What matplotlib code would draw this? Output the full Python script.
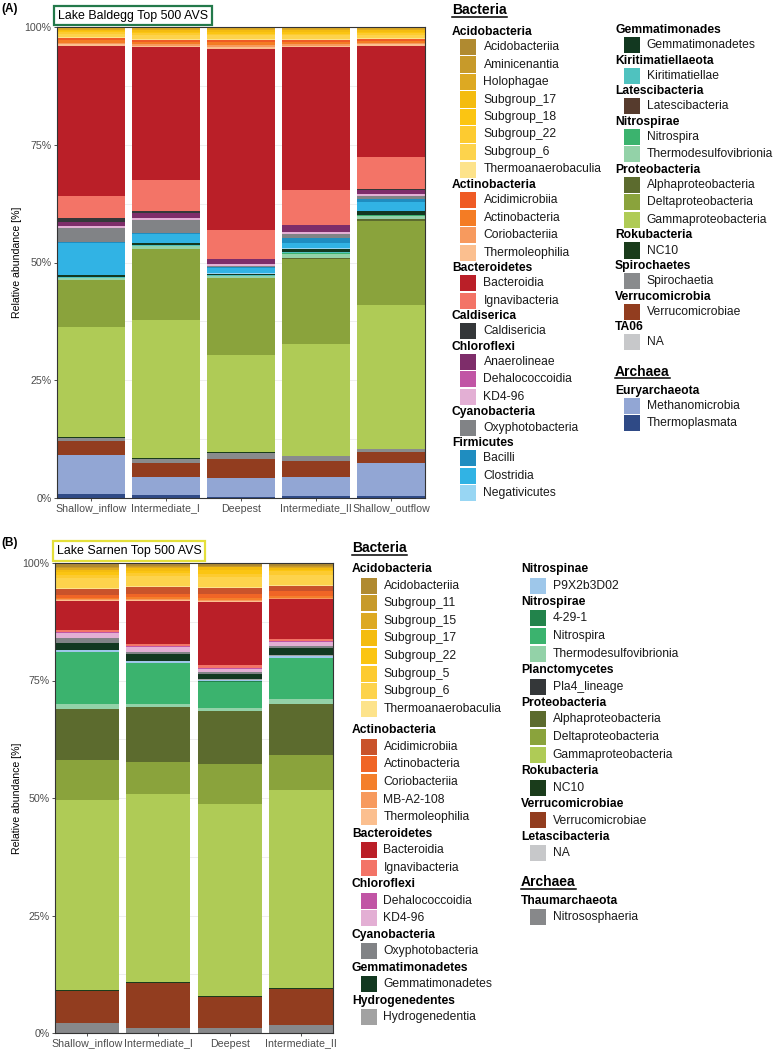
import matplotlib
matplotlib.use("Agg")
import matplotlib.pyplot as plt
import numpy as np
from matplotlib.patches import Rectangle
from matplotlib.lines import Line2D

plt.rcParams['font.family'] = ['Liberation Sans', 'DejaVu Sans']

W, H = 774, 1050

# ---------------- (A) Lake Baldegg ----------------
a_samples = ['Shallow_inflow', 'Intermediate_I', 'Deepest', 'Intermediate_II', 'Shallow_outflow']
a_classes = ['Acidobacteriia', 'Aminicenantia', 'Holophagae', 'Subgroup_17', 'Subgroup_18',
             'Subgroup_22', 'Subgroup_6', 'Thermoanaerobaculia',
             'Acidimicrobiia', 'Actinobacteria', 'Coriobacteriia', 'Thermoleophilia',
             'Bacteroidia', 'Ignavibacteria', 'Caldisericia',
             'Anaerolineae', 'Dehalococcoidia', 'KD4-96', 'Oxyphotobacteria',
             'Bacilli', 'Clostridia', 'Negativicutes', 'Gemmatimonadetes', 'Kiritimatiellae',
             'Latescibacteria', 'Nitrospira', 'Thermodesulfovibrionia',
             'Alphaproteobacteria', 'Deltaproteobacteria', 'Gammaproteobacteria',
             'NC10', 'Spirochaetia', 'Verrucomicrobiae', 'NA',
             'Methanomicrobia', 'Thermoplasmata']
a_phyla = (['Acidobacteria'] * 8 + ['Actinobacteria'] * 4 + ['Bacteroidetes'] * 2 +
           ['Caldiserica'] + ['Chloroflexi'] * 3 + ['Cyanobacteria'] + ['Firmicutes'] * 3 +
           ['Gemmatimonades', 'Kiritimatiellaeota', 'Latescibacteria'] + ['Nitrospirae'] * 2 +
           ['Proteobacteria'] * 3 + ['Rokubacteria', 'Spirochaetes', 'Verrucomicrobia', 'TA06'] +
           ['Euryarchaeota'] * 2)
a_colors = ['#B08A30', '#C79A2A', '#DDA922', '#F4BC0F', '#FBC512', '#FDCB30', '#FDD34C', '#FDE38B',
            '#EF5B25', '#F47C24', '#F79A5E', '#FBBF8F',
            '#BA1F28', '#F37467', '#343739',
            '#7E2D6A', '#C155A5', '#E3AFD4', '#818386',
            '#1F8DC0', '#31B3E4', '#98D6F3', '#123820', '#4FC2BF',
            '#563B2D', '#3BB36E', '#93D2A8',
            '#5C6B2E', '#8AA33C', '#AFCB56',
            '#1A3C1B', '#898B8D', '#923D1F', '#C7C8CA',
            '#92A6D4', '#2F4A86']
a_shallow_inflow = [0.1, 0.1, 0.4, 0.3, 0.2, 0.3, 0.7, 0.2, 0.55, 0.5, 0.3, 0.4, 32.0, 4.5, 0.9,
                    0.8, 0.1, 0.4, 3.0, 0.1, 7.0, 0.0, 0.4, 0.05, 0.05, 0.1, 0.3, 0.1, 9.9, 23.4,
                    0.2, 0.7, 3.0, 0.05, 8.25, 0.85]
a_intermediate_1 = [0.1, 0.1, 0.4, 0.4, 0.3, 0.4, 0.8, 0.2, 0.5, 0.5, 0.3, 0.3, 28.1, 6.5, 0.4,
                    1.1, 0.1, 0.4, 2.8, 0.1, 1.9, 0.05, 0.5, 0.05, 0.05, 0.1, 0.5, 0.1, 15.0, 29.2,
                    0.2, 0.8, 3.0, 0.05, 3.8, 0.6]
a_deepest = [0.1, 0.1, 0.5, 0.4, 0.3, 0.4, 0.7, 0.2, 0.6, 0.6, 0.3, 0.4, 38.7, 6.2, 0.1,
             1.0, 0.1, 0.4, 0.1, 0.2, 1.2, 0.1, 0.35, 0.05, 0.05, 0.05, 0.3, 0.1, 16.5, 20.7,
             0.2, 1.2, 4.1, 0.05, 3.9, 0.3]
a_intermediate_2 = [0.1, 0.1, 0.5, 0.4, 0.3, 0.4, 0.7, 0.2, 0.5, 0.5, 0.3, 0.3, 30.5, 7.3, 0.1,
                    1.4, 0.1, 0.4, 0.8, 1.1, 1.2, 0.05, 0.8, 0.05, 0.05, 0.3, 0.8, 0.1, 18.3, 23.7,
                    0.2, 0.9, 3.4, 0.05, 4.1, 0.4]
a_shallow_outflow = [0.1, 0.1, 0.4, 0.4, 0.3, 0.4, 0.6, 0.2, 0.5, 0.4, 0.3, 0.3, 23.7, 6.9, 0.1,
                     0.9, 0.1, 0.3, 0.7, 0.7, 1.9, 0.05, 0.7, 0.05, 0.05, 0.2, 0.6, 0.5, 17.8, 30.7,
                     0.2, 0.5, 2.3, 0.05, 7.0, 0.5]

# ---------------- (B) Lake Sarnen ----------------
b_samples = ['Shallow_inflow', 'Intermediate_I', 'Deepest', 'Intermediate_II']
b_classes = ['Acidobacteriia', 'Subgroup_11', 'Subgroup_15', 'Subgroup_17', 'Subgroup_22',
             'Subgroup_5', 'Subgroup_6', 'Thermoanaerobaculia',
             'Acidimicrobiia', 'Actinobacteria', 'Coriobacteriia', 'MB-A2-108', 'Thermoleophilia',
             'Bacteroidia', 'Ignavibacteria', 'Dehalococcoidia', 'KD4-96', 'Oxyphotobacteria',
             'Gemmatimonadetes', 'Hydrogenedentia', 'P9X2b3D02', '4-29-1', 'Nitrospira',
             'Thermodesulfovibrionia', 'Pla4_lineage',
             'Alphaproteobacteria', 'Deltaproteobacteria', 'Gammaproteobacteria',
             'NC10', 'Verrucomicrobiae', 'NA', 'Nitrososphaeria']
b_phyla = (['Acidobacteria'] * 8 + ['Actinobacteria'] * 5 + ['Bacteroidetes'] * 2 +
           ['Chloroflexi'] * 2 + ['Cyanobacteria', 'Gemmatimonadetes', 'Hydrogenedentes',
                                  'Nitrospinae'] + ['Nitrospirae'] * 3 + ['Planctomycetes'] +
           ['Proteobacteria'] * 3 + ['Rokubacteria', 'Verrucomicrobiae', 'Letascibacteria',
                                     'Thaumarchaeota'])
b_colors = ['#B08A30', '#C79A2A', '#DDA922', '#F4BC0F', '#FBC512', '#FDCB30', '#FDD34C', '#FDE38B',
            '#C9532B', '#F06526', '#F47F2B', '#F79A5E', '#FBBF8F',
            '#BA1F28', '#F37467', '#C155A5', '#E3AFD4', '#818386',
            '#123820', '#A2A2A2', '#9EC7EA', '#22834B', '#3BB36E',
            '#93D2A8', '#343739',
            '#5C6B2E', '#8AA33C', '#AFCB56',
            '#1A3C1B', '#923D1F', '#C7C8CA', '#87888A']
b_shallow_inflow = [0.85, 0.3, 0.3, 0.55, 0.5, 0.7, 2.1, 0.2, 1.4, 0.5, 0.3, 0.2, 0.2, 6.2, 0.35,
                    0.2, 1.05, 1.05, 1.55, 0.05, 0.4, 0.05, 10.9, 1.0, 0.05, 10.8, 8.6, 40.3,
                    0.2, 6.8, 0.05, 2.1]
b_intermediate_1 = [0.7, 0.2, 0.2, 0.5, 0.5, 0.7, 2.1, 0.2, 1.4, 0.7, 0.4, 0.3, 0.2, 9.2, 0.3,
                    0.2, 1.1, 0.5, 1.4, 0.05, 0.4, 0.05, 8.6, 0.7, 0.05, 11.7, 6.6, 40.0,
                    0.2, 9.6, 0.05, 1.0]
b_deepest = [0.55, 0.2, 0.2, 0.6, 0.7, 0.7, 2.1, 0.2, 1.4, 0.85, 0.3, 0.2, 0.2, 13.5, 0.5,
             0.3, 0.6, 0.4, 1.2, 0.05, 0.35, 0.05, 5.5, 0.7, 0.05, 11.2, 8.5, 40.8,
             0.2, 6.4, 0.05, 1.1]
b_intermediate_2 = [0.7, 0.2, 0.15, 0.4, 0.3, 0.7, 2.3, 0.2, 1.1, 1.05, 0.25, 0.2, 0.15, 8.5, 0.35,
                    0.3, 0.8, 0.4, 1.6, 0.05, 0.45, 0.05, 8.8, 0.9, 0.05, 10.9, 7.4, 42.1,
                    0.2, 7.7, 0.05, 1.6]

fig = plt.figure(figsize=(W / 100, H / 100), dpi=100)


def fx(px):
    return px / W


def fy(py):
    return 1 - py / H


def draw_panel(box, samples, classes, colors, rows):
    left, top, right, bottom = box
    ax = fig.add_axes([fx(left), fy(bottom), (right - left) / W, (bottom - top) / H])
    vals = np.array(rows, dtype=float)
    vals = vals / vals.sum(axis=1, keepdims=True) * 100  # position = "fill"
    xs = np.arange(1, len(samples) + 1)
    base = np.zeros(len(samples))
    # first class on top, like ggplot stacking
    for j in range(len(classes) - 1, -1, -1):
        ax.bar(xs, vals[:, j], width=0.9, bottom=base, color=colors[j], linewidth=0, zorder=2)
        base += vals[:, j]
    ax.set_xlim(0.55, len(samples) + 0.45)
    ax.set_ylim(0, 100)
    ax.set_xticks(xs)
    ax.set_xticklabels(samples, fontsize=7.7, color='#4d4d4d')
    ax.set_yticks([0, 25, 50, 75, 100])
    ax.set_yticklabels(['0%', '25%', '50%', '75%', '100%'], fontsize=7.7, color='#4d4d4d')
    ax.set_yticks([12.5, 37.5, 62.5, 87.5], minor=True)
    ax.grid(axis='y', which='both', color='#ebebeb', linewidth=0.6)
    ax.set_axisbelow(True)
    ax.tick_params(axis='both', which='major', length=2.5, width=0.6, color='#333333', pad=1.5)
    ax.tick_params(axis='y', which='minor', length=0)
    for s in ax.spines.values():
        s.set_color('#333333')
        s.set_linewidth(0.8)
    ax.set_ylabel('Relative abundance [%]', fontsize=7.6)
    ax.yaxis.set_label_coords((22 - left) / (right - left), 0.5)
    return ax


def build_columns(classes, phyla, colors, split_at, archaea):
    col1 = [('kingdom', 'Bacteria', None)]
    col2 = []
    cur = col1
    prev = None
    for name, phy, colr in zip(classes, phyla, colors):
        if phy != prev:
            if phy == split_at:
                cur = col2
            if phy == archaea:
                cur.append(('kingdom', 'Archaea', None))
            cur.append(('phylum', phy, None))
        cur.append(('item', name, colr))
        prev = phy
    return col1, col2


underlines = []


def place(entries, x_head, y0, gaps, extra=None):
    # extra: additional space before a given phylum header
    extra = extra or {}
    y = y0
    prev = None
    for kind, text, colr in entries:
        if prev is not None:
            y += gaps[(prev, kind)]
            if kind == 'phylum':
                y += extra.get(text, 0)
        if kind == 'kingdom':
            t = fig.text(fx(x_head), fy(y), text, fontsize=10, fontweight='bold',
                         va='center', ha='left')
            underlines.append((t, y + 6.5))
        elif kind == 'phylum':
            fig.text(fx(x_head), fy(y), text, fontsize=8.7, fontweight='bold',
                     va='center', ha='left')
        else:
            fig.patches.append(Rectangle((fx(x_head + 8.5), fy(y + 8)), 16 / W, 16 / H,
                                         transform=fig.transFigure, facecolor=colr,
                                         edgecolor='none'))
            fig.text(fx(x_head + 31.5), fy(y), text, fontsize=8.7, va='center', ha='left',
                     color='#1a1a1a')
        prev = kind


# ---------------- panel A ----------------
draw_panel((57, 27, 425, 498), a_samples, a_classes, a_colors,
           [a_shallow_inflow, a_intermediate_1, a_deepest, a_intermediate_2, a_shallow_outflow])
fig.text(fx(58), fy(15.5), 'Lake Baldegg Top 500 AVS', fontsize=8.9, va='center', ha='left',
         bbox=dict(boxstyle='square,pad=0.3', fc='white', ec='#23794A', lw=1.6))
fig.text(fx(1), fy(9), '(A)', fontsize=8.5, fontweight='bold', va='center', ha='left')

gaps_a = {('kingdom', 'phylum'): 19, ('phylum', 'item'): 15.0, ('item', 'item'): 17.5,
          ('item', 'phylum'): 15.6, ('item', 'kingdom'): 29.3}
a_col1, a_col2 = build_columns(a_classes, a_phyla, a_colors, 'Gemmatimonades', 'Euryarchaeota')
place(a_col1, 452, 10, gaps_a, {'Acidobacteria': 3})
place(a_col2, 615, 30, gaps_a)

# ---------------- panel B ----------------
draw_panel((55, 563, 333, 1033), b_samples, b_classes, b_colors,
           [b_shallow_inflow, b_intermediate_1, b_deepest, b_intermediate_2])
fig.text(fx(57), fy(551), 'Lake Sarnen Top 500 AVS', fontsize=8.9, va='center', ha='left',
         bbox=dict(boxstyle='square,pad=0.3', fc='white', ec='#E4DF3A', lw=1.6))
fig.text(fx(1), fy(543), '(B)', fontsize=8.5, fontweight='bold', va='center', ha='left')

gaps_b = {('kingdom', 'phylum'): 18.7, ('phylum', 'item'): 16.3, ('item', 'item'): 17.6,
          ('item', 'phylum'): 16.6, ('item', 'kingdom'): 29.0}
b_col1, b_col2 = build_columns(b_classes, b_phyla, b_colors, 'Nitrospinae', 'Thaumarchaeota')
place(b_col1, 352, 548.3, gaps_b, {'Acidobacteria': 2.3, 'Actinobacteria': 5})
place(b_col2, 521, 569.3, gaps_b)

# underline kingdom headers
renderer = fig.canvas.get_renderer()
for t, yl in underlines:
    bb = t.get_window_extent(renderer)
    fig.lines.append(Line2D([bb.x0 / W, bb.x1 / W], [fy(yl), fy(yl)],
                            transform=fig.transFigure, color='black', linewidth=1.1))

fig.savefig('out.png', dpi=100, facecolor='white')
